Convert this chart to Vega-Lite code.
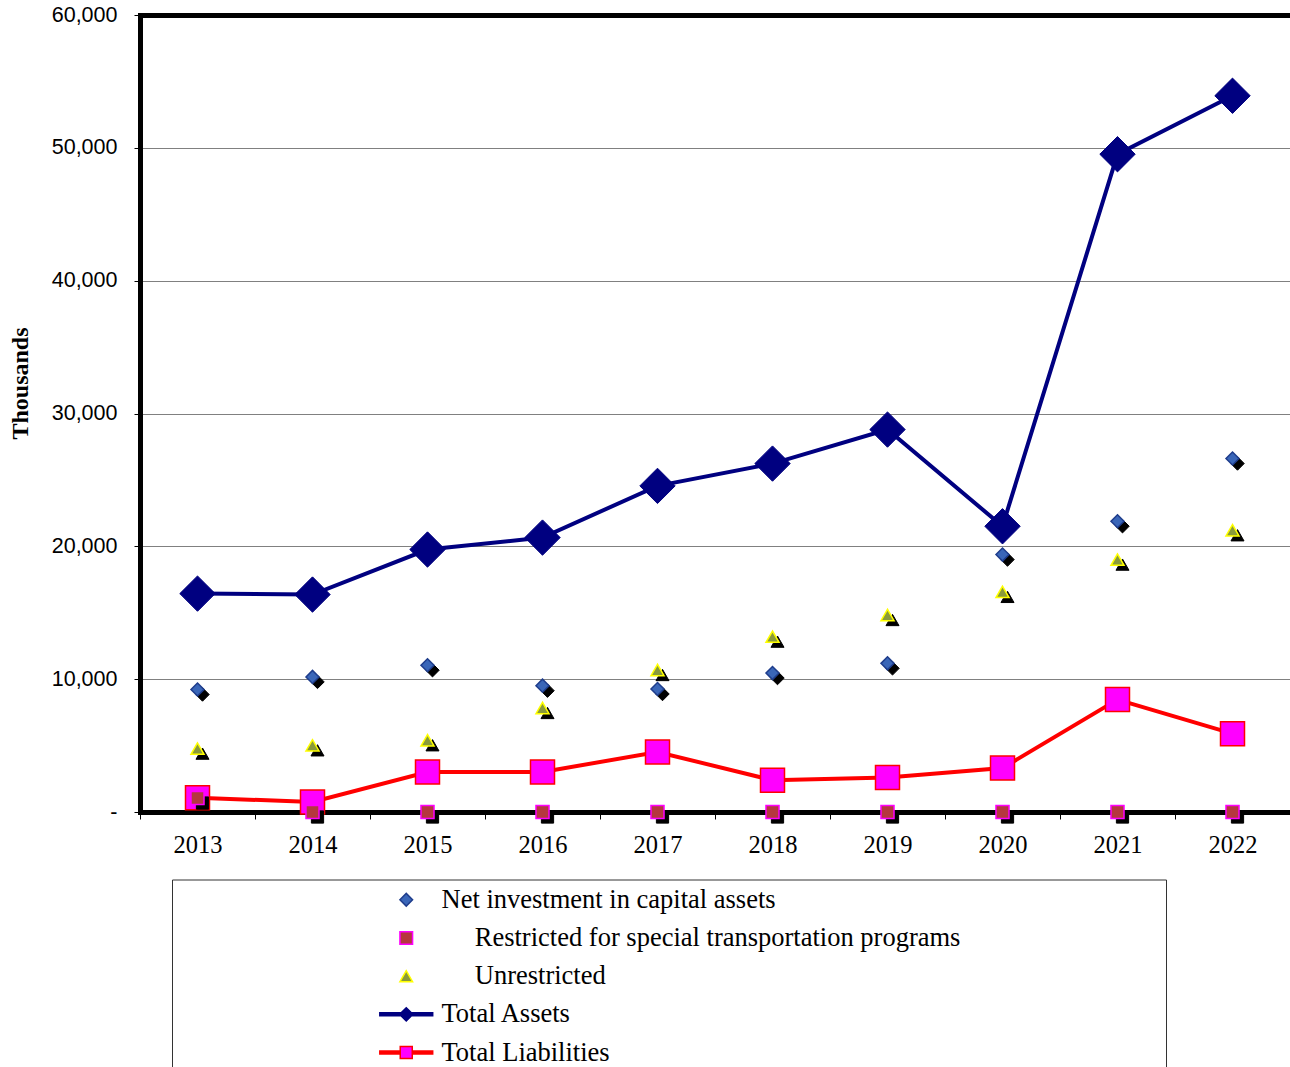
{
  "$schema": "https://vega.github.io/schema/vega-lite/v6.json",
  "width": 1150,
  "height": 797,
  "autosize": {"type": "none"},
  "padding": {"left": 140, "top": 15, "right": 0, "bottom": 255},
  "background": "white",
  "config": {
    "view": {"stroke": null},
    "font": "Liberation Serif",
    "legend": {
      "orient": "none",
      "legendX": 32,
      "legendY": 864.5,
      "titleOrient": "right",
      "titlePadding": 199,
      "titleFontSize": 2,
      "padding": 7,
      "strokeColor": "#333333",
      "fillColor": "white",
      "symbolOffset": 214,
      "labelOffset": 22,
      "labelFont": "Liberation Serif",
      "labelFontSize": 26.5,
      "labelColor": "black",
      "labelLimit": 0,
      "rowPadding": 11.2,
      "symbolSize": 160,
      "symbolStrokeWidth": 1.5
    }
  },
  "data": {
    "values": [
      {"year": 2013, "series": "Total Assets", "value": 16440},
      {"year": 2014, "series": "Total Assets", "value": 16370},
      {"year": 2015, "series": "Total Assets", "value": 19760},
      {"year": 2016, "series": "Total Assets", "value": 20660},
      {"year": 2017, "series": "Total Assets", "value": 24550},
      {"year": 2018, "series": "Total Assets", "value": 26230},
      {"year": 2019, "series": "Total Assets", "value": 28790},
      {"year": 2020, "series": "Total Assets", "value": 21510},
      {"year": 2021, "series": "Total Assets", "value": 49520},
      {"year": 2022, "series": "Total Assets", "value": 53920},
      {"year": 2013, "series": "Total Liabilities", "value": 1080},
      {"year": 2014, "series": "Total Liabilities", "value": 750},
      {"year": 2015, "series": "Total Liabilities", "value": 3010},
      {"year": 2016, "series": "Total Liabilities", "value": 3010},
      {"year": 2017, "series": "Total Liabilities", "value": 4520},
      {"year": 2018, "series": "Total Liabilities", "value": 2390},
      {"year": 2019, "series": "Total Liabilities", "value": 2590},
      {"year": 2020, "series": "Total Liabilities", "value": 3310},
      {"year": 2021, "series": "Total Liabilities", "value": 8460},
      {"year": 2022, "series": "Total Liabilities", "value": 5900},
      {"year": 2013, "series": "Net investment in capital assets", "value": 9220},
      {"year": 2014, "series": "Net investment in capital assets", "value": 10170},
      {"year": 2015, "series": "Net investment in capital assets", "value": 11050},
      {"year": 2016, "series": "Net investment in capital assets", "value": 9510},
      {"year": 2017, "series": "Net investment in capital assets", "value": 9260},
      {"year": 2018, "series": "Net investment in capital assets", "value": 10460},
      {"year": 2019, "series": "Net investment in capital assets", "value": 11190},
      {"year": 2020, "series": "Net investment in capital assets", "value": 19380},
      {"year": 2021, "series": "Net investment in capital assets", "value": 21890},
      {"year": 2022, "series": "Net investment in capital assets", "value": 26610},
      {"year": 2013, "series": "Restricted for special transportation programs", "value": 1050},
      {"year": 2014, "series": "Restricted for special transportation programs", "value": 0},
      {"year": 2015, "series": "Restricted for special transportation programs", "value": 0},
      {"year": 2016, "series": "Restricted for special transportation programs", "value": 0},
      {"year": 2017, "series": "Restricted for special transportation programs", "value": 0},
      {"year": 2018, "series": "Restricted for special transportation programs", "value": 0},
      {"year": 2019, "series": "Restricted for special transportation programs", "value": 0},
      {"year": 2020, "series": "Restricted for special transportation programs", "value": 0},
      {"year": 2021, "series": "Restricted for special transportation programs", "value": 0},
      {"year": 2022, "series": "Restricted for special transportation programs", "value": 0},
      {"year": 2013, "series": "Unrestricted", "value": 4770},
      {"year": 2014, "series": "Unrestricted", "value": 5020},
      {"year": 2015, "series": "Unrestricted", "value": 5400},
      {"year": 2016, "series": "Unrestricted", "value": 7830},
      {"year": 2017, "series": "Unrestricted", "value": 10690},
      {"year": 2018, "series": "Unrestricted", "value": 13200},
      {"year": 2019, "series": "Unrestricted", "value": 14830},
      {"year": 2020, "series": "Unrestricted", "value": 16570},
      {"year": 2021, "series": "Unrestricted", "value": 19000},
      {"year": 2022, "series": "Unrestricted", "value": 21210}
    ]
  },
  "encoding": {
    "x": {
      "field": "year",
      "type": "ordinal",
      "bandPosition": 0.5,
      "scale": {"type": "band", "paddingInner": 0, "paddingOuter": 0},
      "axis": {
        "title": null,
        "labelAngle": 0,
        "labelFont": "Liberation Serif",
        "labelFontSize": 24.5,
        "labelColor": "black",
        "labelPadding": 14,
        "tickBand": "extent",
        "tickSize": 7,
        "tickColor": "black",
        "tickWidth": 1,
        "domainColor": "black",
        "domainWidth": 5,
        "domainCap": "square",
        "grid": false
      }
    },
    "y": {
      "field": "value",
      "type": "quantitative",
      "scale": {"domain": [0, 60000], "nice": false},
      "axis": {
        "title": "Thousands",
        "titleFont": "Liberation Serif",
        "titleFontSize": 24,
        "titleFontWeight": "bold",
        "titleColor": "black",
        "titleAngle": -90,
        "titleX": -120,
        "titleY": 368,
        "titleAlign": "center",
        "titleBaseline": "middle",
        "values": [0, 10000, 20000, 30000, 40000, 50000, 60000],
        "labelExpr": "datum.value === 0 ? '-' : format(datum.value, ',')",
        "labelFont": "Liberation Sans",
        "labelFontSize": 21.5,
        "labelColor": "black",
        "labelPadding": 17,
        "tickSize": 6,
        "tickColor": "black",
        "tickWidth": 1,
        "domainColor": "black",
        "domainWidth": 5,
        "domainCap": "square",
        "grid": true,
        "gridColor": {"condition": {"test": "datum.value === 60000", "value": "black"}, "value": "#808080"},
        "gridWidth": {"condition": {"test": "datum.value === 60000", "value": 5}, "value": 1}
      }
    }
  },
  "layer": [
    {
      "transform": [{"filter": "datum.series === 'Total Assets'"}],
      "mark": {"type": "line", "color": "#000080", "strokeWidth": 4}
    },
    {
      "transform": [{"filter": "datum.series === 'Total Assets'"}],
      "mark": {"type": "point", "shape": "diamond", "size": 1250, "filled": true, "fill": "#000080", "stroke": "#000080", "strokeWidth": 1, "opacity": 1}
    },
    {
      "transform": [{"filter": "datum.series === 'Total Liabilities'"}],
      "mark": {"type": "line", "color": "#ff0000", "strokeWidth": 4}
    },
    {
      "transform": [{"filter": "datum.series === 'Total Liabilities'"}],
      "mark": {"type": "point", "shape": "square", "size": 576, "filled": true, "fill": "#ff00ff", "stroke": "#ff0000", "strokeWidth": 1.5, "opacity": 1}
    },
    {
      "transform": [{"filter": "datum.series === 'Net investment in capital assets'"}],
      "mark": {"type": "point", "shape": "diamond", "filled": true, "size": 180, "fill": "black", "stroke": "black", "strokeWidth": 1, "opacity": 1, "xOffset": 5, "yOffset": 5}
    },
    {
      "transform": [{"filter": "datum.series === 'Restricted for special transportation programs'"}],
      "mark": {"type": "point", "shape": "square", "filled": true, "size": 150, "fill": "black", "stroke": "black", "strokeWidth": 1, "opacity": 1, "xOffset": 5, "yOffset": 5}
    },
    {
      "transform": [{"filter": "datum.series === 'Unrestricted'"}],
      "mark": {"type": "point", "shape": "triangle-up", "filled": true, "size": 170, "fill": "black", "stroke": "black", "strokeWidth": 1, "opacity": 1, "xOffset": 5, "yOffset": 5}
    },
    {
      "transform": [{"filter": "datum.series !== 'Total Assets' && datum.series !== 'Total Liabilities'"}],
      "mark": {"type": "point", "filled": true, "size": 170, "strokeWidth": 1.5, "opacity": 1},
      "encoding": {
        "fill": {
          "field": "series",
          "type": "nominal",
          "scale": {
            "domain": ["Net investment in capital assets", "Restricted for special transportation programs", "Unrestricted", "Total Assets", "Total Liabilities"],
            "range": ["#3a66b8", "#b5373f", "#8a9a3a", "#000080", "#ff00ff"]
          },
          "legend": {
            "title": " ",
            "labelExpr": "indexof(['Restricted for special transportation programs', 'Unrestricted'], datum.label) >= 0 ? '\u2800\u00a0\u00a0' + datum.label : datum.label"
          }
        },
        "stroke": {
          "field": "series",
          "type": "nominal",
          "scale": {
            "domain": ["Net investment in capital assets", "Restricted for special transportation programs", "Unrestricted", "Total Assets", "Total Liabilities"],
            "range": ["#1f3d8c", "#ff00ff", "#ffff00", "#000080", "#ff0000"]
          },
          "legend": {
            "title": " ",
            "labelExpr": "indexof(['Restricted for special transportation programs', 'Unrestricted'], datum.label) >= 0 ? '\u2800\u00a0\u00a0' + datum.label : datum.label"
          }
        },
        "shape": {
          "field": "series",
          "type": "nominal",
          "scale": {
            "domain": ["Net investment in capital assets", "Restricted for special transportation programs", "Unrestricted", "Total Assets", "Total Liabilities"],
            "range": [
              "diamond",
              "square",
              "triangle-up",
              "M-4.3,-0.24L4.3,-0.24M-4.3,0L4.3,0M-4.3,0.24L4.3,0.24M0,-1.05L1.05,0L0,1.05L-1.05,0Z",
              "M-4.3,-0.24L-0.95,-0.24M-4.3,0L-0.95,0M-4.3,0.24L-0.95,0.24M0.95,-0.24L4.3,-0.24M0.95,0L4.3,0M0.95,0.24L4.3,0.24M-0.95,-0.95L0.95,-0.95L0.95,0.95L-0.95,0.95Z"
            ]
          },
          "legend": {
            "title": " ",
            "labelExpr": "indexof(['Restricted for special transportation programs', 'Unrestricted'], datum.label) >= 0 ? '\u2800\u00a0\u00a0' + datum.label : datum.label"
          }
        }
      }
    }
  ]
}
